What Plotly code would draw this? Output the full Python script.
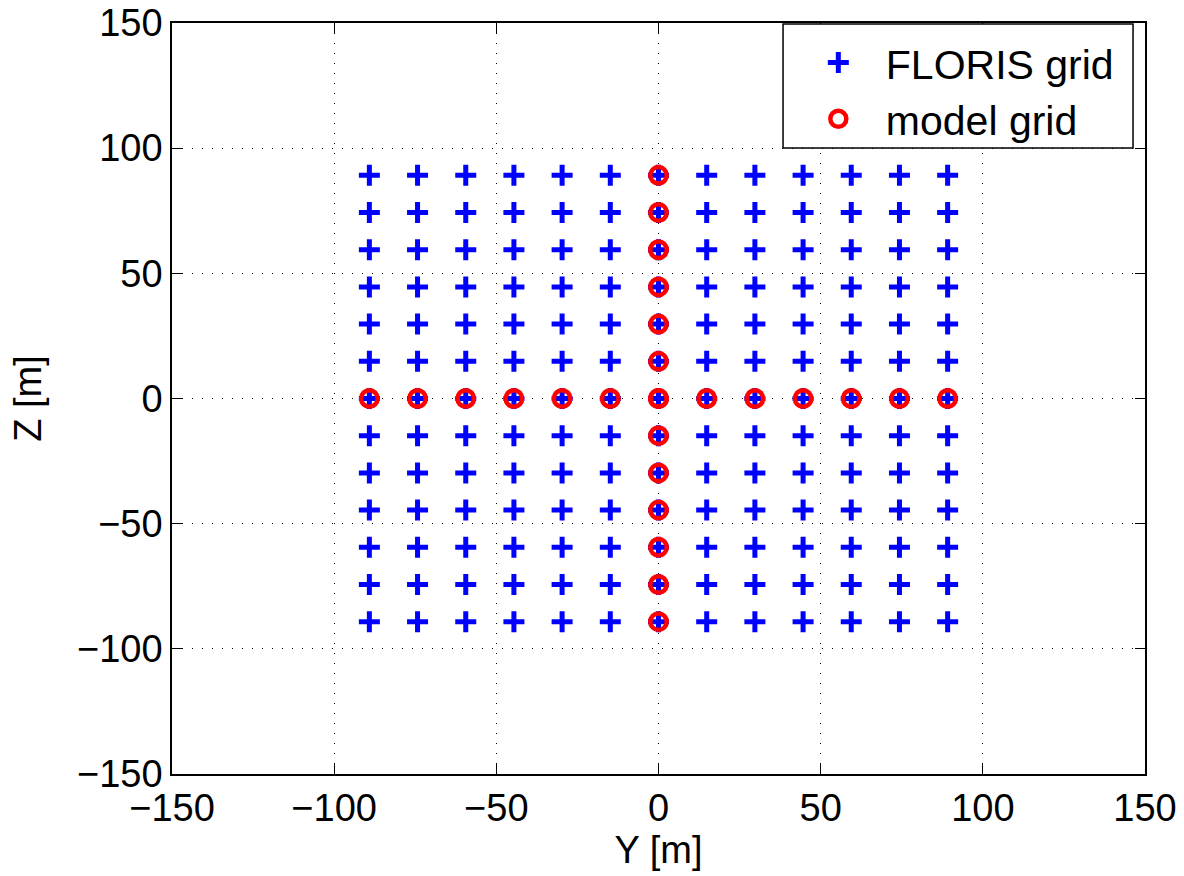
import itertools
import plotly.graph_objects as go

# Lateral (Y) and vertical (Z) sample positions across the rotor plane [m]
grid_y = [-89.15, -74.29, -59.43, -44.58, -29.72, -14.86, 0.0,
          14.86, 29.72, 44.58, 59.43, 74.29, 89.15]
grid_z = [-89.15, -74.29, -59.43, -44.58, -29.72, -14.86, 0.0,
          14.86, 29.72, 44.58, 59.43, 74.29, 89.15]

axis_ticks = [-150, -100, -50, 0, 50, 100, 150]

# FLORIS: full tensor grid
floris_y, floris_z = zip(*itertools.product(grid_y, grid_z))

# Model grid: horizontal line at hub height plus vertical line through the hub
model_y = list(grid_y) + [0.0] * len(grid_z)
model_z = [0.0] * len(grid_y) + list(grid_z)

FONT = "Liberation Sans, Arial, Helvetica, sans-serif"

fig = go.Figure()
fig.add_trace(go.Scatter(
    x=floris_y, y=floris_z, mode="markers", name="FLORIS grid",
    marker=dict(symbol="cross-thin", size=15, color="#0000ff",
                line=dict(color="#0000ff", width=5)),
))
fig.add_trace(go.Scatter(
    x=model_y, y=model_z, mode="markers", name="model grid",
    marker=dict(symbol="circle-open", size=16.5, color="#ff0000",
                line=dict(color="#ff0000", width=4.5)),
))

axis_common = dict(
    range=[-150, 150], tickvals=axis_ticks,
    ticktext=[str(v).replace("-", "\u2212") for v in axis_ticks],
    ticks="inside", ticklen=10, tickwidth=1, tickcolor="black",
    showline=True, linecolor="black", linewidth=1.5, mirror="allticks",
    showgrid=True, gridcolor="black", gridwidth=1, griddash="1px,9px",
    zeroline=False, automargin=False,
    tickfont=dict(family=FONT, size=38, color="black"),
)

# Legend frame, drawn as a paper-anchored box behind the legend entries
fig.add_shape(type="rect", xref="paper", yref="paper",
              x0=0.628, x1=0.9877, y0=0.8336, y1=0.9987,
              line=dict(color="black", width=1.5), fillcolor="white",
              layer="above")

fig.update_layout(
    width=1184, height=876,
    margin=dict(l=172, r=39, t=23, b=102),
    paper_bgcolor="white", plot_bgcolor="white",
    font=dict(family=FONT, size=38, color="black"),
    xaxis=dict(**axis_common,
               title=dict(text="Y [m]", standoff=6,
                          font=dict(family=FONT, size=38))),
    yaxis=dict(**axis_common,
               title=dict(text="Z [m]", standoff=24,
                          font=dict(family=FONT, size=38))),
    legend=dict(x=0.636, y=0.9915, xanchor="left", yanchor="top",
                bgcolor="rgba(0,0,0,0)", borderwidth=0,
                font=dict(family=FONT, size=41, color="black"),
                itemwidth=85, tracegroupgap=0),
    showlegend=True,
)

fig.write_html("out.html")
